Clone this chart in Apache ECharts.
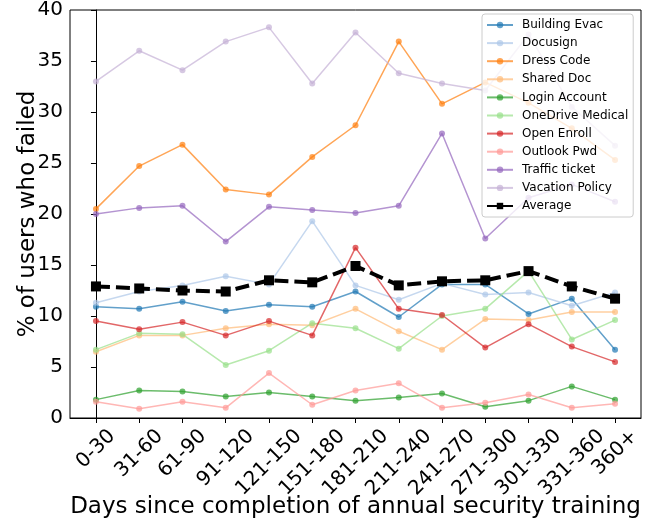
<!DOCTYPE html>
<html>
<head>
<meta charset="utf-8">
<script src="https://cdn.jsdelivr.net/npm/echarts@6/dist/echarts.min.js"></script>
<style>
  html, body { margin: 0; padding: 0; background: #ffffff; }
  #chart { width: 656px; height: 525px; }
</style>
</head>
<body>
<div id="chart"></div>
<script>
// Day buckets since completion of the annual security training
const categories = ['0-30', '31-60', '61-90', '91-120', '121-150', '151-180', '181-210',
  '211-240', '241-270', '271-300', '301-330', '331-360', '360+'];

// % of users who failed each phishing campaign, per bucket
const buildingEvac   = [10.9, 10.7, 11.4, 10.5, 11.1, 10.9, 12.4, 9.9, 13.1, 13.1, 10.2, 11.7, 6.7];
const docusign       = [11.3, 12.4, 13.0, 13.9, 13.1, 19.3, 13.0, 11.6, 13.2, 12.1, 12.3, 11.0, 12.3];
const dressCode      = [20.5, 24.7, 26.8, 22.4, 21.9, 25.6, 28.7, 36.9, 30.8, 32.9, 30.9, 28.4, 25.3];
const sharedDoc      = [6.5, 8.1, 8.1, 8.8, 9.2, 9.1, 10.7, 8.5, 6.7, 9.7, 9.6, 10.4, 10.4];
const loginAccount   = [1.8, 2.7, 2.6, 2.1, 2.5, 2.1, 1.7, 2.0, 2.4, 1.1, 1.7, 3.1, 1.8];
const oneDriveMedical= [6.7, 8.3, 8.2, 5.2, 6.6, 9.3, 8.8, 6.8, 10.0, 10.7, 14.4, 7.7, 9.6];
const openEnroll     = [9.5, 8.7, 9.4, 8.1, 9.5, 8.1, 16.7, 10.7, 10.1, 6.9, 9.2, 7.0, 5.5];
const outlookPwd     = [1.6, 0.9, 1.6, 1.0, 4.4, 1.3, 2.7, 3.4, 1.0, 1.5, 2.3, 1.0, 1.4];
const trafficTicket  = [20.0, 20.6, 20.8, 17.3, 20.7, 20.4, 20.1, 20.8, 27.9, 17.6, 21.6, 22.9, 21.2];
const vacationPolicy = [33.0, 36.0, 34.1, 36.9, 38.3, 32.8, 37.8, 33.8, 32.8, 32.1, 37.6, 30.5, 26.7];
const average        = [12.9, 12.7, 12.5, 12.4, 13.5, 13.3, 14.9, 13.0, 13.4, 13.5, 14.4, 12.9, 11.7];

const yTicks = [0, 5, 10, 15, 20, 25, 30, 35, 40];

const campaigns = [
  { name: 'Building Evac',    values: buildingEvac,    color: '#1f77b4' },
  { name: 'Docusign',         values: docusign,        color: '#aec7e8' },
  { name: 'Dress Code',       values: dressCode,       color: '#ff7f0e' },
  { name: 'Shared Doc',       values: sharedDoc,       color: '#ffbb78' },
  { name: 'Login Account',    values: loginAccount,    color: '#2ca02c' },
  { name: 'OneDrive Medical', values: oneDriveMedical, color: '#98df8a' },
  { name: 'Open Enroll',      values: openEnroll,      color: '#d62728' },
  { name: 'Outlook Pwd',      values: outlookPwd,      color: '#ff9896' },
  { name: 'Traffic ticket',   values: trafficTicket,   color: '#9467bd' },
  { name: 'Vacation Policy',  values: vacationPolicy,  color: '#c5b0d5' }
];

const FONT = "'DejaVu Sans', sans-serif";
const TICK_FONT_SIZE = 20;
const TITLE_FONT_SIZE = 23;
const indices = categories.map((_, i) => i);

// Rotated tick labels are centred under their tick (top of the rotated box just below the axis),
// so each label gets a padding derived from its own width.
const measureCtx = document.createElement('canvas').getContext('2d');
measureCtx.font = TICK_FONT_SIZE + "px 'DejaVu Sans'";
const labelRich = {};
categories.forEach((c, i) => {
  const w = measureCtx.measureText(c).width;
  const d = 8 + 0.354 * (w + TICK_FONT_SIZE);
  const p = 1.414 * d;
  labelRich['c' + i] = {
    fontFamily: FONT, fontSize: TICK_FONT_SIZE, color: '#000',
    padding: [p, p, 0, 0]
  };
});

const toPoints = vals => vals.map((v, i) => [i, v]);

const series = campaigns.map(c => ({
  name: c.name,
  type: 'line',
  data: toPoints(c.values),
  symbol: 'circle',
  symbolSize: 6,
  color: c.color,
  lineStyle: { width: 1.5, color: c.color, opacity: 0.7 },
  itemStyle: { color: c.color, opacity: 0.7 },
  emphasis: { disabled: true },
  animation: false
}));
series.push({
  name: 'Average',
  type: 'line',
  data: toPoints(average),
  symbol: 'rect',
  symbolSize: 10,
  color: '#000',
  lineStyle: { width: 4, color: '#000', type: [14, 6] },
  itemStyle: { color: '#000' },
  emphasis: { disabled: true },
  animation: false,
  z: 5
});

const legendData = campaigns.map(c => ({ name: c.name }));
legendData.push({ name: 'Average', lineStyle: { type: 'solid' } });

const chart = echarts.init(document.getElementById('chart'), null, { renderer: 'canvas' });
chart.setOption({
  backgroundColor: '#ffffff',
  animation: false,
  grid: {
    left: 70, right: 15, top: 8, bottom: 107,
    show: true, borderColor: '#000', borderWidth: 1, backgroundColor: 'transparent'
  },
  xAxis: {
    type: 'value',
    min: -0.6, max: 12.6,
    name: 'Days since completion of annual security training',
    nameLocation: 'middle',
    nameGap: 78,
    nameMoveOverlap: false,
    nameTextStyle: { fontFamily: FONT, fontSize: TITLE_FONT_SIZE, color: '#000' },
    axisLine: { show: true, onZero: false, lineStyle: { color: '#000', width: 1 } },
    axisTick: { show: true, length: 5, lineStyle: { color: '#000', width: 1 }, customValues: indices },
    splitLine: { show: false },
    axisLabel: {
      customValues: indices,
      rotate: 45,
      margin: 0,
      align: 'center',
      verticalAlign: 'middle',
      formatter: v => '{c' + v + '|' + categories[v] + '}',
      rich: labelRich
    }
  },
  yAxis: {
    type: 'value',
    min: yTicks[0], max: yTicks[yTicks.length - 1], interval: 5,
    name: '% of users who failed',
    nameLocation: 'middle',
    nameGap: 30,
    nameMoveOverlap: false,
    nameTextStyle: { fontFamily: FONT, fontSize: TITLE_FONT_SIZE, color: '#000' },
    axisLine: { show: true, lineStyle: { color: '#000', width: 1 } },
    axisTick: { show: true, length: 5, lineStyle: { color: '#000', width: 1 } },
    splitLine: { show: false },
    axisLabel: { fontFamily: FONT, fontSize: TICK_FONT_SIZE, color: '#000', margin: 7 }
  },
  legend: {
    orient: 'vertical',
    left: 482, top: 14,
    padding: [4, 5, 4, 4],
    itemWidth: 26, itemHeight: 8, itemGap: 4.1,
    backgroundColor: 'rgba(255,255,255,0.8)',
    borderColor: '#cccccc', borderWidth: 1, borderRadius: 3,
    textStyle: { fontFamily: FONT, fontSize: 12, color: '#000', lineHeight: 14, padding: [0, 0, 0, 4] },
    data: legendData,
    selectedMode: false,
    z: 10
  },
  series: series
});
</script>
</body>
</html>
